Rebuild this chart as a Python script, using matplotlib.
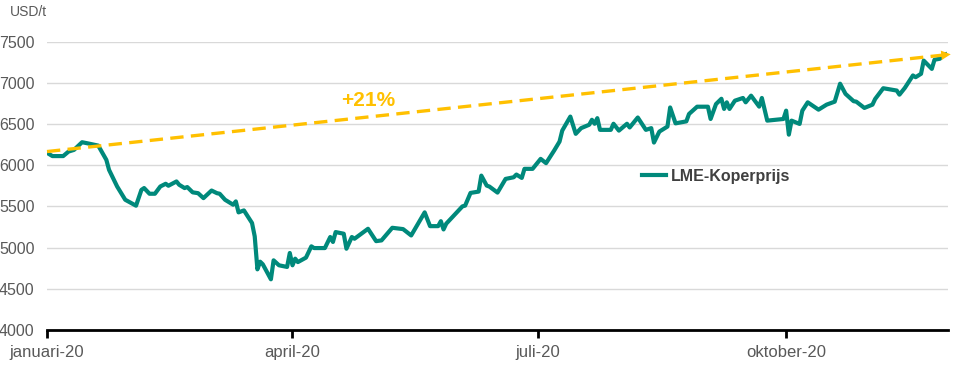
import matplotlib
matplotlib.use("Agg")
import matplotlib.pyplot as plt
import pandas as pd
from matplotlib import font_manager

# ---------------- data ----------------
dates = [
    "2020-01-01", "2020-01-03", "2020-01-07", "2020-01-09", "2020-01-11", "2020-01-14", "2020-01-16",
    "2020-01-20", "2020-01-23", "2020-01-24", "2020-01-27", "2020-01-30", "2020-02-03", "2020-02-05",
    "2020-02-06", "2020-02-08", "2020-02-10", "2020-02-12", "2020-02-14", "2020-02-15", "2020-02-18",
    "2020-02-19", "2020-02-21", "2020-02-22", "2020-02-24", "2020-02-26", "2020-02-28", "2020-03-02",
    "2020-03-04", "2020-03-05", "2020-03-07", "2020-03-10", "2020-03-11", "2020-03-12", "2020-03-14",
    "2020-03-17", "2020-03-18", "2020-03-19", "2020-03-20", "2020-03-21", "2020-03-24", "2020-03-25",
    "2020-03-27", "2020-03-30", "2020-03-31", "2020-04-01", "2020-04-02", "2020-04-03", "2020-04-06",
    "2020-04-08", "2020-04-09", "2020-04-13", "2020-04-15", "2020-04-16", "2020-04-17", "2020-04-20",
    "2020-04-21", "2020-04-23", "2020-04-24", "2020-04-29", "2020-05-02", "2020-05-04", "2020-05-08",
    "2020-05-12", "2020-05-15", "2020-05-20", "2020-05-22", "2020-05-25", "2020-05-26", "2020-05-27",
    "2020-05-28", "2020-06-03", "2020-06-04", "2020-06-06", "2020-06-09", "2020-06-10", "2020-06-12",
    "2020-06-13", "2020-06-16", "2020-06-19", "2020-06-22", "2020-06-23", "2020-06-25", "2020-06-26",
    "2020-06-29", "2020-07-02", "2020-07-04", "2020-07-07", "2020-07-09", "2020-07-10", "2020-07-13",
    "2020-07-15", "2020-07-17", "2020-07-20", "2020-07-21", "2020-07-22", "2020-07-23", "2020-07-24",
    "2020-07-28", "2020-07-29", "2020-07-31", "2020-08-03", "2020-08-04", "2020-08-07", "2020-08-10",
    "2020-08-12", "2020-08-13", "2020-08-15", "2020-08-18", "2020-08-19", "2020-08-21", "2020-08-25",
    "2020-08-26", "2020-08-29", "2020-09-02", "2020-09-03", "2020-09-05", "2020-09-07", "2020-09-08",
    "2020-09-09", "2020-09-10", "2020-09-12", "2020-09-15", "2020-09-16", "2020-09-18", "2020-09-21",
    "2020-09-22", "2020-09-24", "2020-09-30", "2020-10-01", "2020-10-02", "2020-10-03", "2020-10-06",
    "2020-10-07", "2020-10-09", "2020-10-13", "2020-10-16", "2020-10-19", "2020-10-21", "2020-10-23",
    "2020-10-26", "2020-10-27", "2020-10-30", "2020-11-02", "2020-11-03", "2020-11-06", "2020-11-11",
    "2020-11-12", "2020-11-14", "2020-11-17", "2020-11-18", "2020-11-20", "2020-11-21", "2020-11-24",
    "2020-11-25", "2020-11-27", "2020-11-28", "2020-11-29",
]
prices = [
    6150, 6110, 6110, 6165, 6185, 6278, 6265,
    6237, 6064, 5943, 5741, 5580, 5508, 5700,
    5722, 5653, 5653, 5741, 5774, 5750, 5802,
    5762, 5722, 5734, 5670, 5660, 5600, 5692,
    5660, 5653, 5580, 5520, 5560, 5427, 5451,
    5298, 5136, 4736, 4829, 4797, 4615, 4845,
    4785, 4765, 4934, 4785, 4865, 4824, 4878,
    5015, 4994, 4994, 5128, 5068, 5188, 5168,
    4986, 5128, 5107, 5228, 5078, 5087, 5240,
    5224, 5147, 5427, 5260, 5260, 5320, 5220,
    5290, 5500, 5509, 5663, 5679, 5873, 5752,
    5740, 5667, 5833, 5853, 5886, 5845, 5955,
    5955, 6076, 6024, 6177, 6286, 6419, 6589,
    6380, 6449, 6490, 6550, 6502, 6570, 6428,
    6428, 6502, 6419, 6502, 6457, 6578, 6428,
    6449, 6274, 6407, 6468, 6700, 6507, 6531,
    6621, 6709, 6709, 6560, 6741, 6805, 6682,
    6762, 6682, 6782, 6815, 6762, 6843, 6710,
    6815, 6540, 6560, 6661, 6370, 6540, 6500,
    6661, 6762, 6673, 6734, 6770, 6988, 6865,
    6776, 6770, 6694, 6734, 6803, 6933, 6905,
    6855, 6937, 7088, 7067, 7108, 7268, 7168,
    7279, 7291, 7332, 7344,
]
trend_dates = ["2020-01-01", "2020-12-01"]
trend_values = [6165, 7345]
trend_label = "+21%"
series_label = "LME-Koperprijs"
unit_label = "USD/t"
y_ticks = [4000, 4500, 5000, 5500, 6000, 6500, 7000, 7500]
x_ticks = ["2020-01-01", "2020-04-01", "2020-07-01", "2020-10-01"]
x_tick_labels = ["januari-20", "april-20", "juli-20", "oktober-20"]

# ---------------- style ----------------
names = {f.name for f in font_manager.fontManager.ttflist}
narrow = "Liberation Sans Narrow" if "Liberation Sans Narrow" in names else "Liberation Sans"
plt.rcParams["font.family"] = [narrow, "DejaVu Sans"]

TEAL = "#00897b"
GOLD = "#ffc000"
GREY = "#595959"

fig = plt.figure(figsize=(9.62, 3.67), dpi=100)
ax = fig.add_axes([47 / 962, 37 / 367, 901 / 962, 288.5 / 367])

x = pd.to_datetime(dates)
ax.plot(x, prices, color=TEAL, lw=3.0, solid_joinstyle="round", zorder=3, label=series_label)

tx = pd.to_datetime(trend_dates)
ax.plot(tx, trend_values, color=GOLD, lw=2.4, ls=(0, (4.0, 2.2)), zorder=4, clip_on=False)
# arrow head at the end of the trend line
span = (tx[1] - tx[0])
pre = tx[1] - span * 0.012
pre_val = trend_values[1] - (trend_values[1] - trend_values[0]) * 0.012
ax.annotate("", xy=(tx[1], trend_values[1]), xytext=(pre, pre_val),
            arrowprops=dict(arrowstyle="-|>", color=GOLD, lw=0, mutation_scale=17,
                            shrinkA=0, shrinkB=0), annotation_clip=False, zorder=5)

ax.text(pd.Timestamp("2020-04-29"), 6790, trend_label, color=GOLD, fontsize=15,
        fontweight="bold", ha="center", va="center")

ax.set_ylim(4000, 7500)
ax.set_xlim(pd.Timestamp("2020-01-01"), pd.Timestamp("2020-11-30"))
ax.set_yticks(y_ticks)
ax.set_yticklabels([str(v) for v in y_ticks])
ax.set_xticks(pd.to_datetime(x_ticks))
ax.set_xticklabels(x_tick_labels)

ax.grid(axis="y", color="#d9d9d9", lw=1.0)
ax.set_axisbelow(True)
for s in ["top", "right", "left"]:
    ax.spines[s].set_visible(False)
ax.spines["bottom"].set_color("black")
ax.spines["bottom"].set_linewidth(2.0)
ax.spines["bottom"].set_zorder(6)
ax.tick_params(axis="y", length=0, labelsize=11.5, labelcolor=GREY, pad=9)
ax.tick_params(axis="x", length=6, width=2.0, color="black", labelsize=12,
               labelcolor=GREY, pad=5)

fig.text(10 / 962, 1 - 12 / 367, unit_label, fontsize=10, color=GREY, va="center", ha="left")

leg = ax.legend(loc="center left", bbox_to_anchor=((642 - 47) / 901, (330 - 176) / 288.5),
                frameon=False, handlelength=1.5, handletextpad=0.3, borderpad=0,
                borderaxespad=0, prop={"family": [narrow, "DejaVu Sans"], "weight": "bold", "size": 11.5})
for t in leg.get_texts():
    t.set_color("#404040")

fig.savefig("out.png", dpi=100)
